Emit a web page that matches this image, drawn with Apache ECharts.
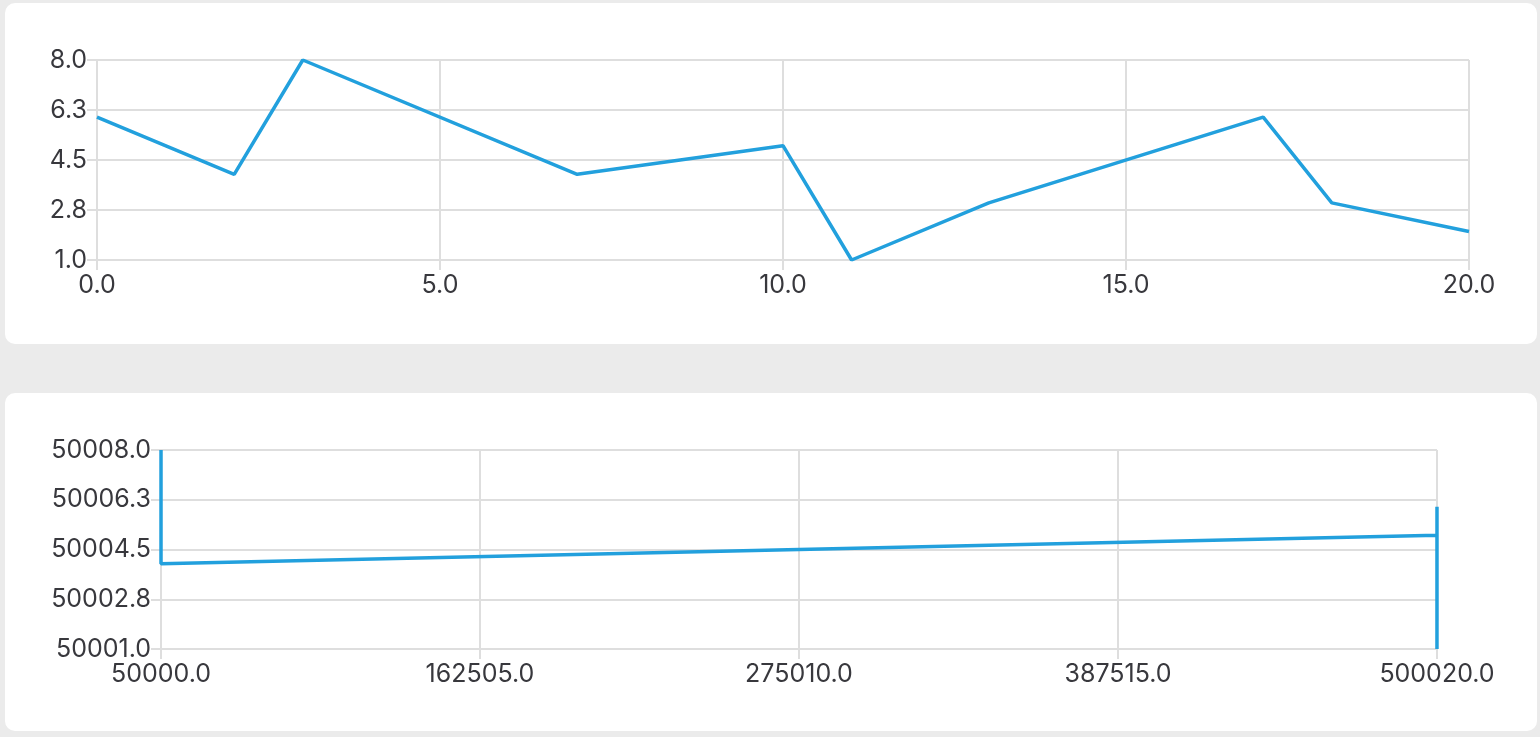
<!DOCTYPE html>
<html>
<head>
<meta charset="utf-8">
<script src="https://cdn.jsdelivr.net/npm/echarts@6/dist/echarts.min.js"></script>
<style>
  html, body { margin: 0; padding: 0; width: 1540px; height: 737px; background: #ebebeb; overflow: hidden; }
  .card { position: absolute; background: #ffffff; border-radius: 10px; }
  #c1 { left: 5px; top: 3px; width: 1532px; height: 341px; }
  #c2 { left: 5px; top: 393px; width: 1532px; height: 338px; }
</style>
</head>
<body>
<div id="c1" class="card"></div>
<div id="c2" class="card"></div>
<script>
// Top chart data
const topX = [0, 2, 3, 7, 10, 11, 13, 17, 18, 20];
const topY = [6, 4, 8, 4, 5, 1, 3, 6, 3, 2];
const topXAxis = { min: 0, max: 20, interval: 5 };
const topYAxis = { min: 1, max: 8, interval: 1.75 };

// Bottom chart data
const bottomX = [50000, 50002, 50003, 50007, 500010, 500011, 500013, 500017, 500018, 500020];
const bottomY = [50006, 50004, 50008, 50004, 50005, 50001, 50003, 50006, 50003, 50002];
const bottomXAxis = { min: 50000, max: 500020, interval: 112505 };
const bottomYAxis = { min: 50001, max: 50008, interval: 1.75 };

const FONT = 'Inter, "Open Sans", "DejaVu Sans", sans-serif';
const LABEL_COLOR = '#38383d';
const LINE_GRAY = '#dedede';
const BLUE = '#22a0dd';

function axisCommon(range, isX) {
  return {
    type: 'value',
    min: range.min,
    max: range.max,
    interval: range.interval,
    axisLine: { show: true, lineStyle: { color: LINE_GRAY, width: 2 } },
    axisTick: { show: true, length: 10, lineStyle: { color: LINE_GRAY, width: 2 } },
    splitLine: { show: true, lineStyle: { color: LINE_GRAY, width: 2 } },
    axisLabel: {
      color: LABEL_COLOR,
      fontSize: 25,
      fontFamily: FONT,
      margin: isX ? 13 : 10,
      formatter: v => Number(v).toFixed(1)
    }
  };
}

function buildOption(xs, ys, xr, yr, grid) {
  return {
    animation: false,
    grid: grid,
    xAxis: axisCommon(xr, true),
    yAxis: axisCommon(yr, false),
    series: [{
      type: 'line',
      data: xs.map((x, i) => [x, ys[i]]),
      showSymbol: false,
      symbol: 'none',
      lineStyle: { color: BLUE, width: 3.5 },
      itemStyle: { color: BLUE }
    }]
  };
}

const ch1 = echarts.init(document.getElementById('c1'), null, { renderer: 'canvas' });
ch1.setOption(buildOption(topX, topY, topXAxis, topYAxis,
  { left: 92, top: 57, right: 68, bottom: 84 }));

const ch2 = echarts.init(document.getElementById('c2'), null, { renderer: 'canvas' });
ch2.setOption(buildOption(bottomX, bottomY, bottomXAxis, bottomYAxis,
  { left: 156, top: 57, right: 100, bottom: 82 }));
</script>
</body>
</html>
